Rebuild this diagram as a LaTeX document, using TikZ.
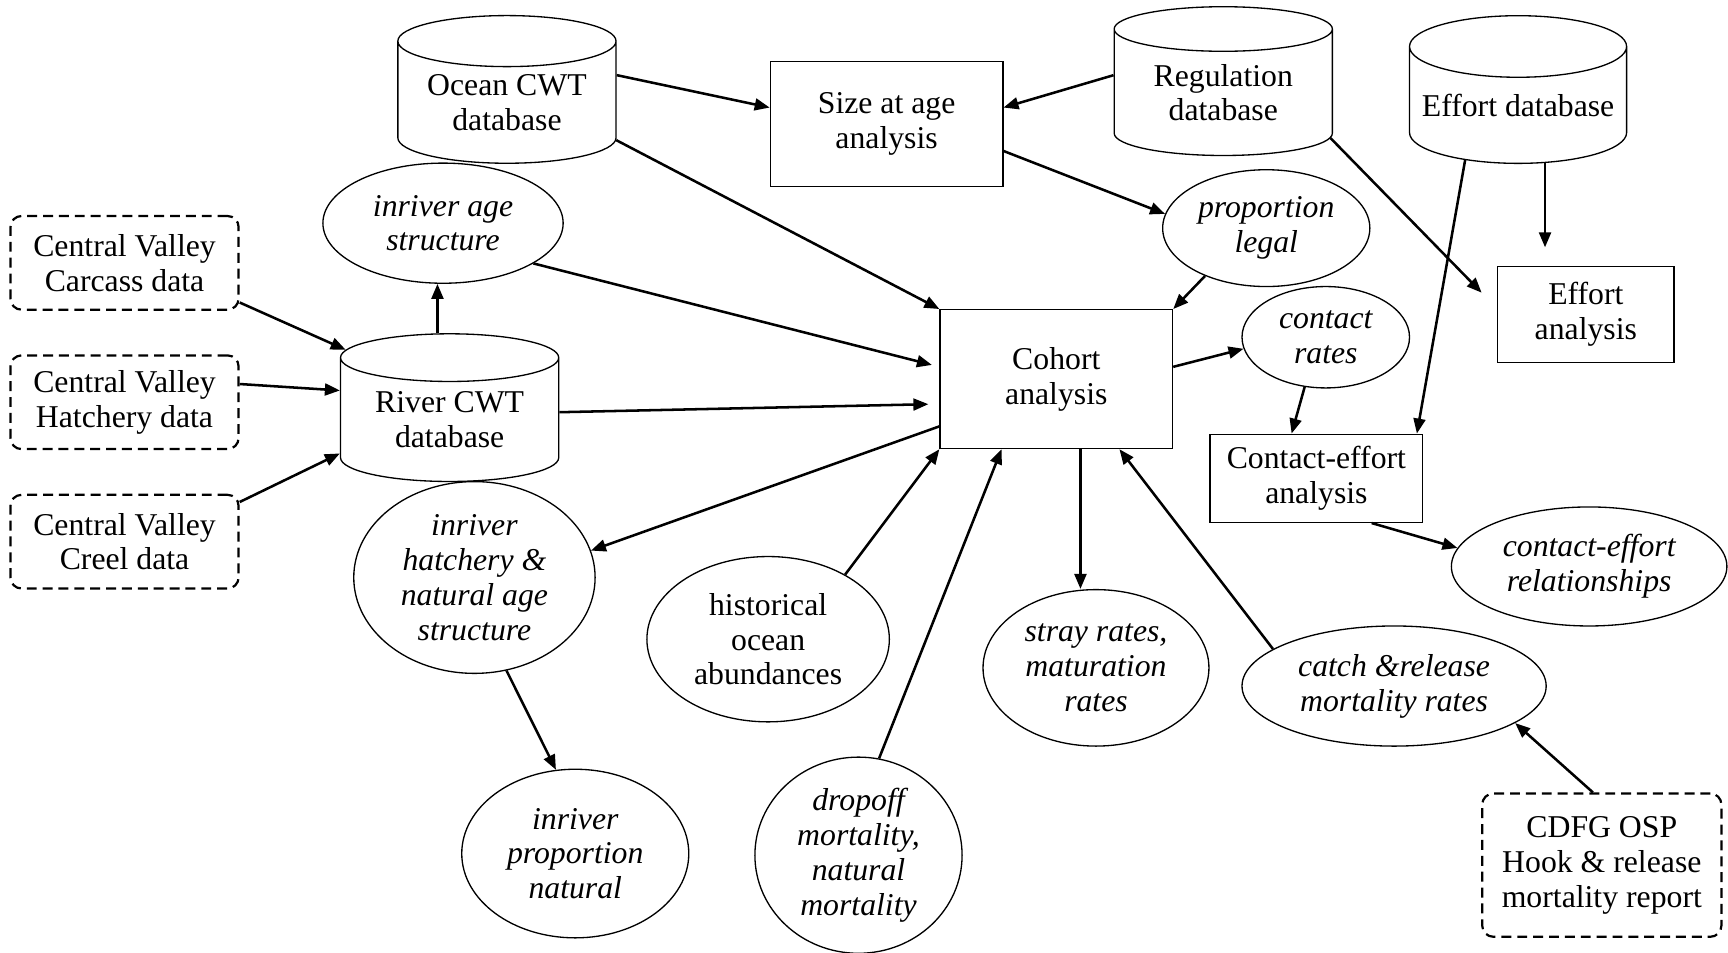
\documentclass[tikz,border=0pt]{standalone}
\usepackage{fontspec}
\setmainfont{Liberation Serif}
\usetikzlibrary{shapes.geometric,arrows.meta}
\begin{document}
\begin{tikzpicture}[x=0.5pt,y=0.5pt,
    every node/.style={font=\fontsize{14.4}{15.8}\selectfont, align=center, line width=0.6pt},
    db/.style={draw, cylinder, shape border rotate=90, aspect=0.32, inner sep=0pt},
    box/.style={draw, rectangle, inner sep=0pt},
    src/.style={draw, rectangle, rounded corners=5pt, dash pattern=on 4.5pt off 2.7pt, line width=1pt, minimum width=103.5pt, minimum height=42.5pt, inner sep=0pt},
    est/.style={draw, ellipse, inner sep=0pt, font=\fontsize{14.4}{15.8}\selectfont\itshape},
    link/.style={-{Triangle[length=6.8pt,width=5.4pt]}, line width=1.15pt}]
        \useasboundingbox (0,0) rectangle (1568,-864);
        %Databases
            \node[db, minimum width=99pt, minimum height=67pt] (ocean) at (460,-93) {Ocean CWT\\database};
            \node[db, minimum width=99pt, minimum height=67pt] (river) at (408,-381) {River CWT\\database};
            \node[db, minimum width=99pt, minimum height=67.5pt] (reg) at (1110,-84) {Regulation\\database};
            \node[db, minimum width=98.5pt, minimum height=67pt] (effdb) at (1377.5,-95.5) {Effort database};
        %Analyses
            \node[box, minimum width=105.5pt, minimum height=56.5pt] (size) at (804.5,-112.5) {Size at age\\analysis};
            \node[box, minimum width=105.5pt, minimum height=63pt] (cohort) at (958.5,-344) {Cohort\\analysis};
            \node[box, minimum width=80pt, minimum height=43.5pt] (effan) at (1439,-285.5) {Effort\\analysis};
            \node[box, minimum width=96.5pt, minimum height=40pt] (contactan) at (1194.5,-434) {Contact-effort\\analysis};
        %Data sources
            \node[src] (carcass) at (113,-238.5) {Central Valley\\Carcass data};
            \node[src] (hatchery) at (113,-365) {Central Valley\\Hatchery data};
            \node[src] (creel) at (113,-491.5) {Central Valley\\Creel data};
            \node[src, minimum width=108.5pt, minimum height=65pt] (cdfg) at (1453.5,-785) {CDFG OSP\\Hook \& release\\mortality report};
        %Estimates
            \node[est, minimum width=109pt, minimum height=54.5pt] (agestr) at (402,-202.5) {inriver age\\structure};
            \node[est, minimum width=94pt, minimum height=53pt] (legal) at (1149,-207) {proportion\\legal};
            \node[est, minimum width=76pt, minimum height=46pt] (rates) at (1203,-306) {contact\\rates};
            \node[est, minimum width=125pt, minimum height=54pt] (cerel) at (1442,-514) {contact-effort\\relationships};
            \node[est, minimum width=138pt, minimum height=54.5pt] (catch) at (1265,-622.5) {catch \&release\\mortality rates};
            \node[est, minimum width=102.5pt, minimum height=71pt] (stray) at (994.5,-606) {stray rates,\\maturation\\rates};
            \node[est, font=\fontsize{14.4}{15.8}\selectfont, minimum width=110pt, minimum height=75pt] (hist) at (697,-580) {historical\\ocean\\abundances};
            \node[est, minimum width=94pt, minimum height=89pt] (dropoff) at (779,-776) {dropoff\\mortality,\\natural\\mortality};
            \node[est, minimum width=109.5pt, minimum height=87pt] (hatchage) at (430.5,-524) {inriver\\hatchery \&\\natural age\\structure};
            \node[est, minimum width=103pt, minimum height=76.5pt] (propnat) at (522,-774.5) {inriver\\proportion\\natural};
        %Links
            \draw[link] (ocean.14) -- (size.172);
            \draw[link] (reg.171) -- (size.8);
            \draw[link] (size.-13) -- (legal.172);
            \draw[link] (ocean.-19) -- (cohort.north west);
            \draw[link, shorten >=3.5pt] (agestr.-24) -- (cohort.174);
            \draw[link, shorten >=5pt] (river.4) -- (cohort.192);
            \draw[link] (cohort.202) -- (hatchage.13);
            \draw[link] (hist.40) -- (cohort.south west);
            \draw[link] (dropoff.78) -- (cohort.232);
            \draw[link] (cohort.289) -- (cohort.289 |- stray.north);
            \draw[link] (catch.163) -- (cohort.312);
            \draw[link] (cdfg.97) -- (catch.-17);
            \draw[link] (legal.218) -- (cohort.north east);
            \draw[link] (cohort.6) -- (rates.188);
            \draw[link] (rates.247) -- (contactan.119);
            \draw[link] (effdb.226) -- (contactan.24);
            \draw[link, shorten >=8.5pt] (effdb.295) -- (effdb.295 |- effan.north);
            \draw[link, shorten >=10pt] (reg.-23) -- (effan.176);
            \draw[link] (contactan.-39) -- (cerel.172);
            \draw[link] (river.98) -- (river.98 |- agestr.south);
            \draw[link] (carcass.-19) -- (river.146);
            \draw[link] (hatchery.9) -- (river.165);
            \draw[link] (creel.19) -- (river.197);
            \draw[link] (hatchage.289) -- (propnat.103);
\end{tikzpicture}
\end{document}
